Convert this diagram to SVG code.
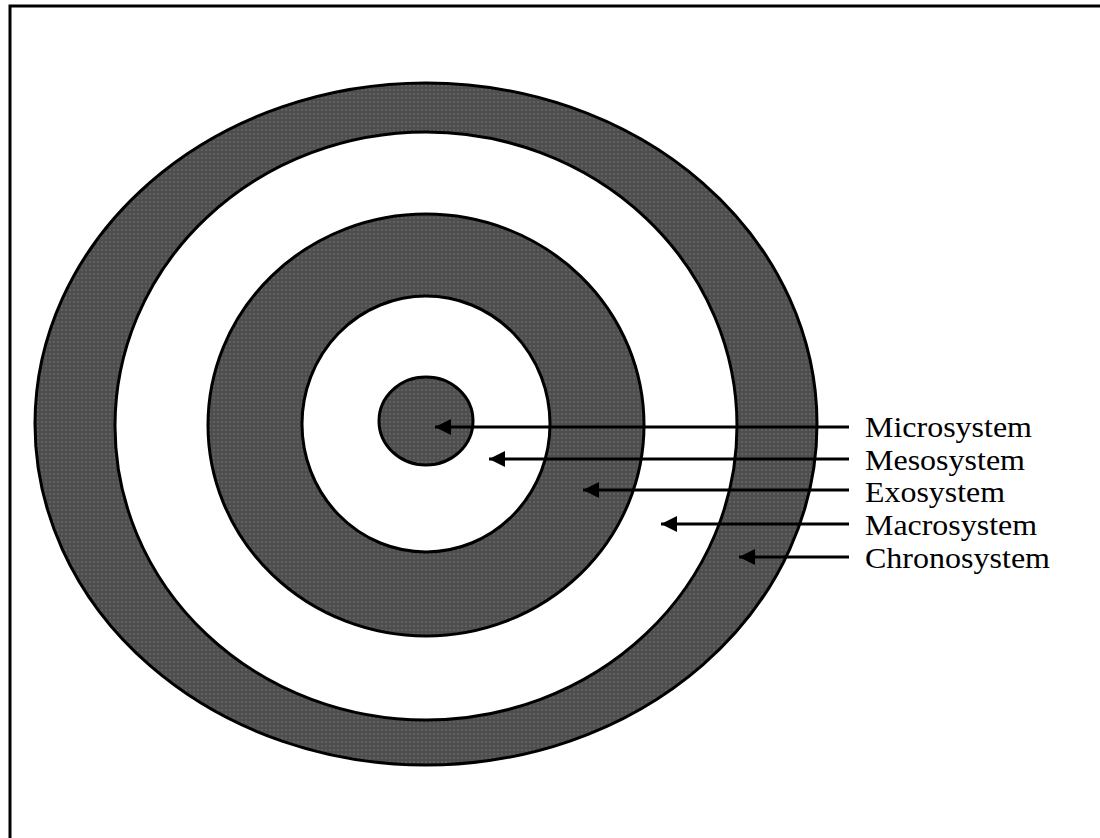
<svg xmlns="http://www.w3.org/2000/svg" width="1100" height="838" viewBox="0 0 1100 838">
  <style>
    .ring { stroke: #000; stroke-width: 3; }
    .dark { fill: url(#dots); }
    .light { fill: #fff; }
    .arrow { stroke: #000; stroke-width: 3; fill: none; marker-end: url(#head); }
    .label { font-family: "Liberation Serif", "Times New Roman", serif; font-size: 29.5px; fill: #000; }
  </style>
  <defs>
    <pattern id="dots" patternUnits="userSpaceOnUse" width="4" height="4">
      <rect width="4" height="4" fill="#4e4e4e"/>
      <rect x="1" y="1" width="2" height="2" fill="#606060"/>
    </pattern>
    <marker id="head" markerUnits="userSpaceOnUse" markerWidth="16" markerHeight="16" refX="16" refY="8" orient="auto">
      <path d="M0,0 L16,8 L0,16 Z" fill="#000"/>
    </marker>
  </defs>
  <rect x="10" y="6" width="1110" height="860" fill="#fff" stroke="#000" stroke-width="3"/>
  <g id="chronosystem"><ellipse class="ring dark" cx="426" cy="424" rx="391" ry="341"/></g>
  <g id="macrosystem"><ellipse class="ring light" cx="426" cy="426" rx="311" ry="294"/></g>
  <g id="exosystem"><ellipse class="ring dark" cx="426" cy="425" rx="218" ry="211"/></g>
  <g id="mesosystem"><ellipse class="ring light" cx="426" cy="424" rx="124" ry="128"/></g>
  <g id="microsystem"><ellipse class="ring dark" cx="426" cy="421" rx="47" ry="44"/></g>
  <g id="connectors">
    <line class="arrow" x1="849" y1="427" x2="435" y2="427"/>
    <line class="arrow" x1="849" y1="459" x2="489" y2="459"/>
    <line class="arrow" x1="849" y1="490" x2="583" y2="490"/>
    <line class="arrow" x1="849" y1="524" x2="661" y2="524"/>
    <line class="arrow" x1="849" y1="557" x2="739" y2="557"/>
  </g>
  <g id="labels">
    <text class="label" x="865" y="437" textLength="167" lengthAdjust="spacingAndGlyphs">Microsystem</text>
    <text class="label" x="865" y="470" textLength="160" lengthAdjust="spacingAndGlyphs">Mesosystem</text>
    <text class="label" x="865" y="502" textLength="140" lengthAdjust="spacingAndGlyphs">Exosystem</text>
    <text class="label" x="865" y="535" textLength="172" lengthAdjust="spacingAndGlyphs">Macrosystem</text>
    <text class="label" x="865" y="568" textLength="185" lengthAdjust="spacingAndGlyphs">Chronosystem</text>
  </g>
</svg>
